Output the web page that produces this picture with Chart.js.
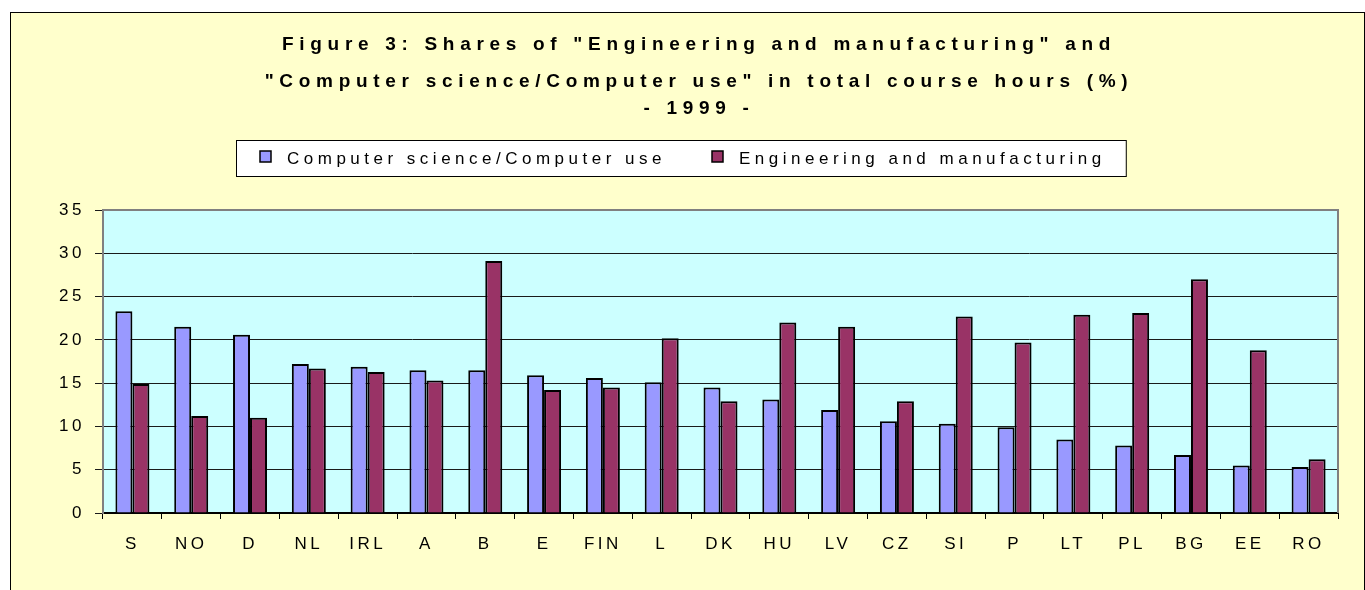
<!DOCTYPE html>
<html>
<head>
<meta charset="utf-8">
<script src="https://cdn.jsdelivr.net/npm/chart.js@4.4.1/dist/chart.umd.min.js"></script>
<style>
  html, body { margin: 0; padding: 0; background: #fff; overflow: hidden; }
  #frame { position: absolute; left: 10px; top: 12px; width: 1353px; height: 600px;
           background: #ffffcc; border: 1px solid #000; }
  #wrap { position: relative; width: 1353px; height: 600px; }
</style>
</head>
<body>
<div id="frame"><div id="wrap"><canvas id="chart"></canvas></div></div>
<script>
const categories = ['S', 'NO', 'D', 'NL', 'IRL', 'A', 'B', 'E', 'FIN', 'L', 'DK',
  'HU', 'LV', 'CZ', 'SI', 'P', 'LT', 'PL', 'BG', 'EE', 'RO'];
const computerUse = [23.3, 21.5, 20.6, 17.2, 16.9, 16.5, 16.5, 15.9, 15.6, 15.1, 14.5,
  13.1, 11.9, 10.6, 10.3, 9.9, 8.5, 7.8, 6.7, 5.5, 5.3];
const engineering = [14.9, 11.2, 11.0, 16.7, 16.3, 15.3, 29.1, 14.2, 14.5, 20.2, 12.9,
  22.0, 21.5, 12.9, 22.7, 19.7, 22.9, 23.1, 27.0, 18.8, 6.2];
const seriesLabels = ['Computer science/Computer use', 'Engineering and manufacturing'];
const titleLines = [
  'Figure 3: Shares of "Engineering and manufacturing" and',
  '"Computer science/Computer use" in total course hours (%)',
  '- 1999 -',
];
const yMin = 0;
const yMax = 35;
const yStep = 5;

const FONT = '"Liberation Sans", Arial, sans-serif';

// canvas text gets the spaced-out look of the original
const spacing = {
  id: 'spacing',
  beforeDraw(chart) {
    chart.ctx.letterSpacing = '3.5px';
  },
};

const plotBg = {
  id: 'plotBg',
  beforeDraw(chart) {
    const { ctx, chartArea: a } = chart;
    ctx.save();
    ctx.fillStyle = '#ccffff';
    ctx.fillRect(a.left, a.top, a.right - a.left, a.bottom - a.top);
    ctx.restore();
  },
  beforeDatasetsDraw(chart) {
    const { ctx, chartArea: a } = chart;
    ctx.save();
    ctx.strokeStyle = '#808080';
    ctx.lineWidth = 2;
    ctx.beginPath();
    ctx.moveTo(a.left, a.top);
    ctx.lineTo(a.right, a.top);
    ctx.lineTo(a.right, a.bottom);
    ctx.stroke();
    ctx.restore();
  },
};

const titleAndLegend = {
  id: 'titleAndLegend',
  afterDraw(chart) {
    const ctx = chart.ctx;
    ctx.save();
    // title
    ctx.fillStyle = '#000';
    ctx.textAlign = 'center';
    ctx.textBaseline = 'alphabetic';
    ctx.font = 'bold 19px ' + FONT;
    ctx.letterSpacing = '5.7px';
    const baselines = [37, 74, 101];
    titleLines.forEach((line, i) => ctx.fillText(line, 688, baselines[i]));

    // legend
    ctx.font = '17px ' + FONT;
    ctx.letterSpacing = '4.5px';
    ctx.textAlign = 'left';
    const items = chart.data.datasets.map(ds => ({
      text: ds.label, color: ds.backgroundColor, w: ctx.measureText(ds.label).width,
    }));
    const box = 11, gapText = 16, gapItem = 46, padL = 24, padR = 20;
    let total = padL + padR;
    items.forEach((it, i) => { total += box + gapText + it.w + (i ? gapItem : 0); });
    const left = Math.round(670 - total / 2);
    const top = 127;
    ctx.fillStyle = '#fff';
    ctx.fillRect(left, top, total, 36);
    ctx.strokeStyle = '#000';
    ctx.lineWidth = 1;
    ctx.strokeRect(left + 0.5, top + 0.5, total, 36);
    let x = left + padL;
    items.forEach((it, i) => {
      if (i) x += gapItem;
      ctx.fillStyle = it.color;
      ctx.fillRect(x, 138, box, box);
      ctx.lineWidth = 1.5;
      ctx.strokeRect(x, 138, box, box);
      x += box + gapText;
      ctx.fillStyle = '#000';
      ctx.fillText(it.text, x, 151);
      x += it.w;
    });
    ctx.restore();
  },
};

const ctx = document.getElementById('chart').getContext('2d');
new Chart(ctx, {
  type: 'bar',
  data: {
    labels: categories,
    datasets: [
      {
        label: seriesLabels[0],
        data: computerUse,
        backgroundColor: '#9999ff',
        borderColor: '#000',
        borderWidth: 2,
      },
      {
        label: seriesLabels[1],
        data: engineering,
        backgroundColor: '#993366',
        borderColor: '#000',
        borderWidth: 2,
      },
    ],
  },
  options: {
    responsive: true,
    maintainAspectRatio: false,
    animation: false,
    events: [],
    layout: { padding: { top: 197, right: 26, bottom: 40, left: 0 } },
    datasets: { bar: { categoryPercentage: 0.578, barPercentage: 1.0 } },
    plugins: {
      legend: { display: false },
      title: { display: false },
      tooltip: { enabled: false },
    },
    scales: {
      x: {
        afterFit: s => { s.height = 60; },
        grid: { drawOnChartArea: false, drawTicks: true, tickLength: 6, color: '#000' },
        border: { display: true, color: '#000', width: 2 },
        ticks: { color: '#000', font: { family: FONT, size: 17 }, padding: 15, maxRotation: 0 },
      },
      y: {
        min: yMin,
        max: yMax,
        afterFit: s => { s.width = 92; },
        grid: { color: '#1a1a1a', lineWidth: 1, tickLength: 8 },
        border: { display: true, color: '#808080', width: 2 },
        ticks: { stepSize: yStep, color: '#000', font: { family: FONT, size: 17 }, padding: 10 },
      },
    },
  },
  plugins: [spacing, plotBg, titleAndLegend],
});
</script>
</body>
</html>
